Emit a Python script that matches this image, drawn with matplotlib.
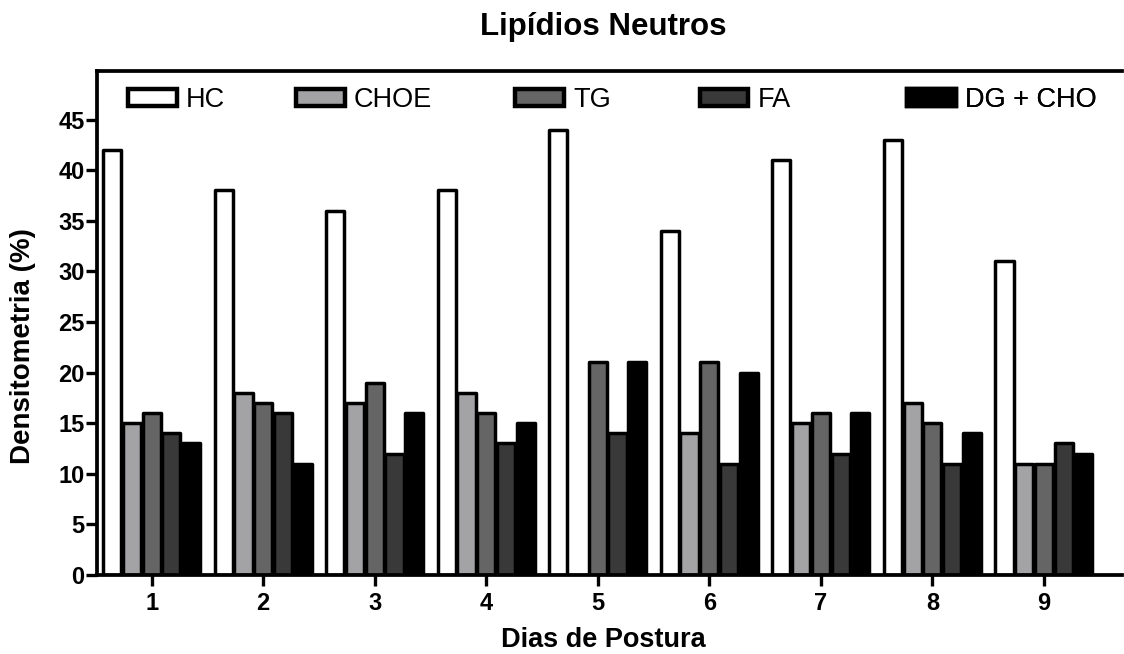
import matplotlib
matplotlib.use("Agg")
import matplotlib.pyplot as plt
from matplotlib.patches import Patch
import numpy as np

plt.rcParams['font.family'] = ['Liberation Sans', 'DejaVu Sans']

days = [1, 2, 3, 4, 5, 6, 7, 8, 9]
series_names = ["HC", "CHOE", "TG", "FA", "DG + CHO"]
hc = [42, 38, 36, 38, 44, 34, 41, 43, 31]
choe = [15, 18, 17, 18, 0, 14, 15, 17, 11]
tg = [16, 17, 19, 16, 21, 21, 16, 15, 11]
fa = [14, 16, 12, 13, 14, 11, 12, 11, 13]
dg_cho = [13, 11, 16, 15, 21, 20, 16, 14, 12]
series = [hc, choe, tg, fa, dg_cho]
colors = ["#ffffff", "#a3a3a6", "#656565", "#393939", "#000000"]
yticks = [0, 5, 10, 15, 20, 25, 30, 35, 40, 45]

fig = plt.figure(figsize=(11.24, 6.54), dpi=100)
ax = fig.add_axes([97/1124, 1 - 575/654, 1025/1124, (575-71)/654])

x = np.array(days, dtype=float)
pitch = 0.177
width = 0.163
for i, (vals, c) in enumerate(zip(series, colors)):
    ax.bar(x + (i - 2) * pitch, vals, width=width, color=c, edgecolor='black',
           linewidth=2.5, joinstyle='round', zorder=2)

ax.set_xlim(0.51, 9.70)
ax.set_ylim(0, 49.8)
ax.set_xticks(days)
ax.set_xticklabels([str(d) for d in days])
ax.set_yticks(yticks)
ax.set_yticklabels([str(t) for t in yticks])

for s in ['left', 'bottom', 'top']:
    ax.spines[s].set_linewidth(2.7)
ax.spines['right'].set_visible(False)
ax.tick_params(axis='both', direction='out', width=2.4, labelsize=17)
ax.tick_params(axis='y', length=8, pad=1)
ax.tick_params(axis='x', length=8, pad=4)
for lab in ax.get_xticklabels() + ax.get_yticklabels():
    lab.set_fontweight('bold')

ax.set_xlabel("Dias de Postura", fontsize=19.5, fontweight='bold', labelpad=9)
ax.xaxis.label.set_x(0.494)
ax.set_ylabel("Densitometria (%)", fontsize=20, fontweight='bold', labelpad=16)
ax.yaxis.label.set_y(0.454)
fig.text(603/1124, 1 - 27/654, "Lipídios Neutros", ha='center', va='center',
         fontsize=22.5, fontweight='bold')

# legend entries placed individually
leg_x = [0.030, 0.194, 0.408, 0.588, 0.790]
for name, c, lx in zip(series_names, colors, leg_x):
    h = Patch(facecolor=c, edgecolor='black', linewidth=3.2)
    lg = ax.legend(handles=[h], labels=[name], loc='center left',
                   bbox_to_anchor=(lx, 0.942), frameon=False, borderpad=0,
                   borderaxespad=0, handlelength=1.8, handleheight=0.6,
                   handletextpad=0.35, fontsize=19.5)
    ax.add_artist(lg)

fig.savefig("out.png", dpi=100)
